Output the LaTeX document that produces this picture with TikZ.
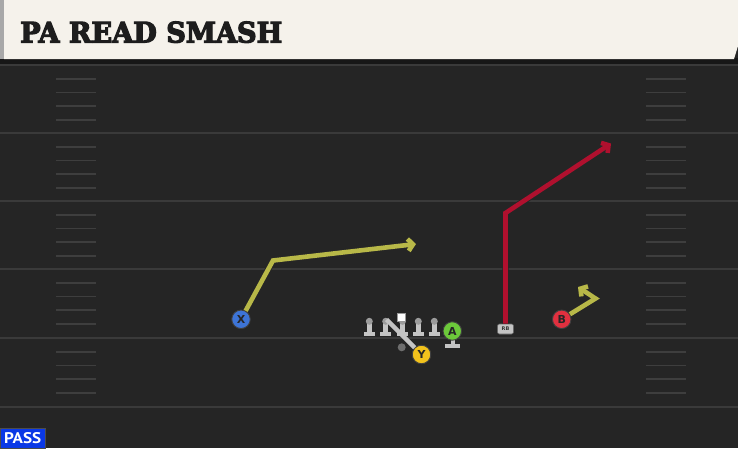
\documentclass[tikz,border=0pt]{standalone}
\usepackage{fontspec}
\setmainfont{DejaVu Sans}
\newfontfamily\titlefont[FakeBold=4]{DejaVu Serif Condensed}
\newfontfamily\passfont{PT Sans}
\usetikzlibrary{arrows.meta}
\definecolor{field}{HTML}{252525}
\definecolor{yardc}{HTML}{3A3A3A}
\definecolor{hashc}{HTML}{3E3E3E}
\definecolor{cream}{HTML}{F5F2EB}
\definecolor{titletext}{HTML}{1D1D1D}
\definecolor{edgegrey}{HTML}{A8A8A8}
\definecolor{topband}{HTML}{171717}
\definecolor{olgrey}{HTML}{C4C4C4}
\definecolor{olhead}{HTML}{9C9C9C}
\definecolor{routey}{HTML}{B8B848}
\definecolor{router}{HTML}{B0102E}
\definecolor{xblue}{HTML}{3D74D6}
\definecolor{yyellow}{HTML}{F2C21C}
\definecolor{bred}{HTML}{E0303F}
\definecolor{agreen}{HTML}{6CC93A}
\definecolor{passblue}{HTML}{0A38E6}
\definecolor{qbgrey}{HTML}{6E6E6E}
\tikzset{
  yard/.style={draw=yardc, line width=2pt},
  hashmark/.style={draw=hashc, line width=1.8pt},
  player/.style={circle, minimum size=18.5pt, inner sep=0pt, draw=black!75, line width=0.9pt,
    font=\fontsize{11}{11}\selectfont\bfseries, text=black!85},
  routeout/.style={draw=black!85, line width=6.4pt, line join=miter, -{Straight Barb[length=5pt,width=12pt]}},
  routein/.style={line width=4.6pt, line join=miter, -{Straight Barb[length=5pt,width=12pt]}},
  blockline/.style={draw=olgrey, line width=4.4pt},
  lineman/.pic={
    \fill[olgrey] (-5.5,332) rectangle (5.5,335.8);
    \fill[olgrey] (-2.3,321.5) rectangle (2.3,333);
    \fill[olhead] (0,321.3) circle (3.5pt);
  }
}
\begin{document}
\begin{tikzpicture}[x=1pt,y=-1pt]
\useasboundingbox (0,0) rectangle (738,448);
\fill[field] (0,0) rectangle (738,448);
% yard lines
\foreach \yy in {65,133,201,269,338,407} \draw[yard] (0,\yy) -- (738,\yy);
% hash marks
\foreach \b in {65,133,201,269,338} {
  \foreach \k in {1,2,3,4} {
    \draw[hashmark] (56,{\b+\k*13.7}) -- (96,{\b+\k*13.7});
    \draw[hashmark] (646,{\b+\k*13.7}) -- (686,{\b+\k*13.7});
  }
}
% title bar
\fill[topband] (0,58) rectangle (738,64);
\fill[cream] (4,0) -- (738,0) -- (738,46) -- (734,59) -- (4,59) -- cycle;
\fill[edgegrey] (0,0) rectangle (4,59);
\node[anchor=west, inner sep=0pt, text=titletext] (title) at (20,32.2)
  {\resizebox{262pt}{21pt}{\titlefont\bfseries PA READ SMASH}};
% offensive line
\foreach \xx in {369.3,385.7,402.5,418.3,434.3} \pic at (\xx,0) {lineman};
\node[fill=white, draw=black!40, line width=0.5pt, minimum size=8.5pt, inner sep=0pt] (ball) at (401.3,317) {};
\node[circle, fill=qbgrey, minimum size=8pt, inner sep=0pt] (qb) at (401.7,347.3) {};
% A base
\fill[olgrey] (450.5,338) rectangle (454.5,345);
\fill[olgrey] (445,343.8) rectangle (460,347.5);
% players
\node[player, fill=xblue] (X) at (241,319.3) {X};
\node[player, fill=yyellow] (Y) at (421.5,354.5) {Y};
\node[player, fill=agreen] (A) at (452.3,331) {A};
\node[player, fill=bred] (B) at (561.7,319.3) {B};
\node[rounded corners=2pt, fill=olgrey, draw=black!60, line width=0.6pt, minimum width=16pt,
  minimum height=10pt, inner sep=0pt, font=\fontsize{5}{5}\selectfont\bfseries, text=black!80] (RB) at (505.5,329) {RB};
% block line
\coordinate (lg) at (386.5,319.5);
\draw[blockline] (lg) -- (Y);
% route coordinates
\coordinate (xc) at (273,260.5);
\coordinate (xe) at (416,244);
\coordinate (rc) at (505.5,213);
\coordinate (re) at (611,143.5);
\coordinate (bc) at (595.5,298.5);
\coordinate (be) at (578,287);
% routes
\draw[routeout] (X) -- (xc) -- (xe);
\draw[routein, draw=routey] (X) -- (xc) -- (xe);
\draw[routeout] (RB.north) -- (rc) -- (re);
\draw[routein, draw=router] (RB.north) -- (rc) -- (re);
\draw[routeout] (B) -- (bc) -- (be);
\draw[routein, draw=routey] (B) -- (bc) -- (be);
% pass tag
\node[fill=passblue, draw=black!70, line width=0.5pt, anchor=south west, minimum width=45pt, minimum height=20pt, inner sep=0pt,
  text=white] (pass) at (0,448) {\resizebox{37pt}{11pt}{\passfont\bfseries PASS}};
\end{tikzpicture}
\end{document}
